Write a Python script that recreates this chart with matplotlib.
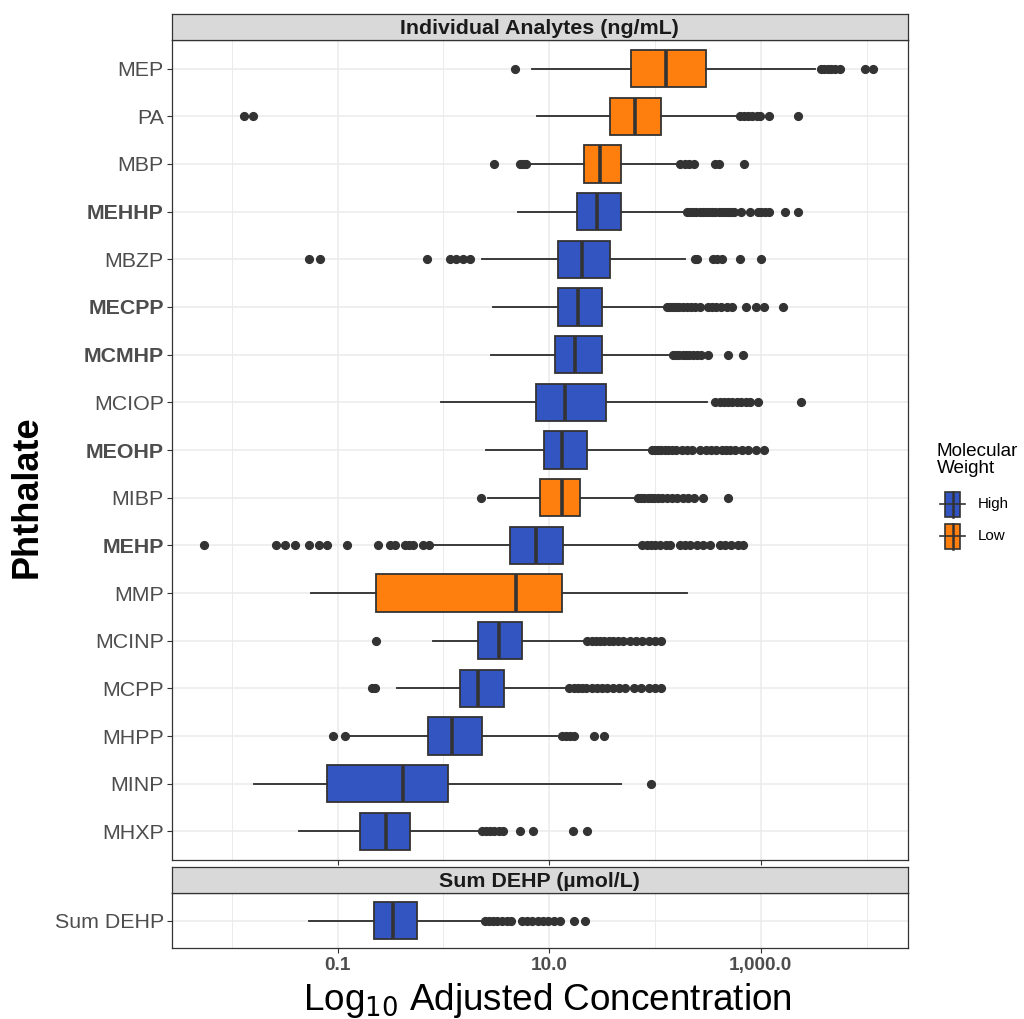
import numpy as np
import matplotlib
matplotlib.use("Agg")
import matplotlib.pyplot as plt
from matplotlib.patches import Rectangle
from matplotlib.ticker import NullFormatter

plt.rcParams['font.family'] = ['Liberation Sans', 'DejaVu Sans']

# ---- data (log10 of adjusted concentration) ----
analytes = ['MEP', 'PA', 'MBP', 'MEHHP', 'MBZP', 'MECPP', 'MCMHP', 'MCIOP', 'MEOHP',
            'MIBP', 'MEHP', 'MMP', 'MCINP', 'MCPP', 'MHPP', 'MINP', 'MHXP']
weight = ['Low', 'Low', 'Low', 'High', 'High', 'High', 'High', 'High', 'High',
          'Low', 'High', 'Low', 'High', 'High', 'High', 'High', 'High']
bold_labels = ['MEHHP', 'MECPP', 'MCMHP', 'MEOHP', 'MEHP']

whis_lo = [0.84, 0.88, 0.81, 0.70, 0.36, 0.47, 0.45, -0.02, 0.40, 0.42, -0.11, -1.25, -0.10, -0.44, -0.91, -1.79, -1.37]
q1 =      [1.77, 1.57, 1.33, 1.26, 1.08, 1.08, 1.05, 0.87, 0.95, 0.91, 0.63, -0.64, 0.33, 0.16, -0.15, -1.10, -0.79]
median =  [2.10, 1.81, 1.48, 1.45, 1.31, 1.27, 1.24, 1.15, 1.12, 1.12, 0.87, 0.69, 0.52, 0.33, 0.08, -0.38, -0.54]
q3 =      [2.48, 2.06, 1.68, 1.68, 1.57, 1.50, 1.50, 1.54, 1.36, 1.29, 1.13, 1.12, 0.74, 0.57, 0.36, 0.04, -0.32]
whis_hi = [3.51, 2.77, 2.21, 2.28, 2.28, 2.10, 2.17, 2.49, 1.97, 1.83, 1.86, 2.30, 1.34, 1.16, 1.07, 1.68, 0.34]

outliers = [
    [0.68, 3.57, 3.60, 3.63, 3.66, 3.70, 3.75, 3.98, 4.06],
    [-1.89, -1.80, 2.80, 2.84, 2.88, 2.92, 2.96, 2.99, 3.08, 3.35],
    [0.48, 0.72, 0.75, 0.78, 2.24, 2.28, 2.32, 2.37, 2.57, 2.60, 2.84],
    [2.30, 2.33, 2.36, 2.39, 2.42, 2.45, 2.48, 2.51, 2.54, 2.57, 2.60, 2.63, 2.66, 2.69,
     2.72, 2.75, 2.81, 2.90, 2.97, 3.00, 3.04, 3.08, 3.23, 3.35],
    [-1.27, -1.17, -0.16, 0.06, 0.12, 0.18, 0.25, 2.38, 2.40, 2.55, 2.59, 2.63, 2.80, 3.00],
    [2.11, 2.14, 2.17, 2.20, 2.23, 2.26, 2.30, 2.34, 2.38, 2.42, 2.50, 2.54, 2.58, 2.62,
     2.68, 2.73, 2.86, 2.95, 3.03, 3.21],
    [2.17, 2.20, 2.23, 2.26, 2.29, 2.32, 2.36, 2.40, 2.43, 2.50, 2.69, 2.83],
    [2.57, 2.61, 2.65, 2.69, 2.73, 2.77, 2.81, 2.86, 2.90, 2.97, 3.38],
    [1.97, 2.00, 2.03, 2.06, 2.09, 2.12, 2.16, 2.20, 2.25, 2.30, 2.35, 2.42, 2.48, 2.53,
     2.58, 2.63, 2.67, 2.71, 2.76, 2.82, 2.88, 2.95, 3.03],
    [0.35, 1.84, 1.87, 1.90, 1.93, 1.96, 1.99, 2.03, 2.07, 2.11, 2.16, 2.21, 2.26, 2.31,
     2.37, 2.45, 2.69],
    [-2.26, -1.58, -1.50, -1.40, -1.27, -1.18, -1.10, -0.91, -0.62, -0.51, -0.46, -0.36,
     -0.33, -0.29, -0.19, -0.14, 1.88, 1.92, 1.96, 2.00, 2.05, 2.10, 2.14, 2.24, 2.28,
     2.33, 2.40, 2.45, 2.52, 2.61, 2.66, 2.72, 2.78, 2.83],
    [],
    [-0.64, 1.36, 1.40, 1.44, 1.48, 1.52, 1.56, 1.60, 1.65, 1.70, 1.76, 1.82, 1.88, 1.94,
     2.00, 2.06],
    [-0.68, -0.65, 1.19, 1.23, 1.27, 1.31, 1.35, 1.40, 1.45, 1.50, 1.55, 1.60, 1.66, 1.72,
     1.80, 1.87, 1.94, 2.00, 2.06],
    [-1.04, -0.93, 1.12, 1.16, 1.20, 1.23, 1.42, 1.52],
    [1.96],
    [0.36, 0.40, 0.44, 0.48, 0.52, 0.56, 0.72, 0.85, 1.22, 1.36],
]

sum_label = 'Sum DEHP'
sum_stats = [-1.27, -0.66, -0.48, -0.25, 0.37]   # whislo, q1, med, q3, whishi
sum_outliers = [0.39, 0.43, 0.47, 0.51, 0.55, 0.60, 0.64, 0.74, 0.79, 0.84, 0.89,
                0.94, 0.99, 1.04, 1.10, 1.23, 1.34]

colors = {'High': '#3355C2', 'Low': '#FF7F0E'}
dark = '#333333'
grid_c = '#EBEBEB'

W, H = 1024, 1019
fig = plt.figure(figsize=(W / 100, H / 100), dpi=100)


def fr(x0, y0, x1, y1):
    # pixel box -> figure fraction
    return [x0 / W, 1 - y1 / H, (x1 - x0) / W, (y1 - y0) / H]


xl, xr = 171.5, 907.5
ax = fig.add_axes(fr(xl, 40, xr, 860))
ax2 = fig.add_axes(fr(xl, 893, xr, 948))
xlim = (10 ** -2.571, 10 ** 4.386)


def style_panel(a):
    a.set_xscale('log')
    a.set_xlim(*xlim)
    a.set_xticks([0.1, 10, 1000])
    a.set_xticks([0.01, 1, 100, 10000], minor=True)
    a.xaxis.set_minor_formatter(NullFormatter())
    a.grid(True, which='major', color=grid_c, lw=1.1, zorder=0)
    a.grid(True, which='minor', axis='x', color=grid_c, lw=0.7, zorder=0)
    a.set_axisbelow(True)
    for s in a.spines.values():
        s.set_color(dark)
        s.set_linewidth(0.9)
    a.tick_params(axis='both', which='major', length=3.5, width=0.8, color=dark)
    a.tick_params(axis='x', which='minor', length=0)
    a.tick_params(axis='y', labelsize=15.4, labelcolor='#4D4D4D', pad=2)


def draw_boxes(a, stats, pos, fills, width):
    bp = a.bxp(stats, positions=pos, widths=width, orientation='horizontal',
               patch_artist=True, showcaps=False,
               boxprops=dict(edgecolor=dark, linewidth=1.3),
               medianprops=dict(color=dark, linewidth=2.6),
               whiskerprops=dict(color=dark, linewidth=1.35),
               flierprops=dict(marker='o', markerfacecolor=dark, markeredgecolor=dark,
                               markersize=5.6, linestyle='none'),
               zorder=3)
    for patch, c in zip(bp['boxes'], fills):
        patch.set_facecolor(c)


n = len(analytes)
pos = [n - 1 - i for i in range(n)]
stats = []
for i, name in enumerate(analytes):
    stats.append(dict(whislo=10 ** whis_lo[i], q1=10 ** q1[i], med=10 ** median[i],
                      q3=10 ** q3[i], whishi=10 ** whis_hi[i],
                      fliers=10 ** np.array(outliers[i]), label=name))
style_panel(ax)
draw_boxes(ax, stats, pos, [colors[w] for w in weight], 0.78)
ax.set_ylim(-0.6, n - 0.4)
ax.set_yticks(pos)
ax.set_yticklabels(analytes)
for t in ax.get_yticklabels():
    if t.get_text() in bold_labels:
        t.set_fontweight('bold')
ax.tick_params(axis='x', which='both', labelbottom=False)

s = sum_stats
stats2 = [dict(whislo=10 ** s[0], q1=10 ** s[1], med=10 ** s[2], q3=10 ** s[3],
               whishi=10 ** s[4], fliers=10 ** np.array(sum_outliers), label=sum_label)]
style_panel(ax2)
draw_boxes(ax2, stats2, [0], [colors['High']], 0.78)
ax2.set_ylim(-0.577, 0.577)
ax2.set_yticks([0])
ax2.set_yticklabels([sum_label])
ax2.set_xticklabels(['0.1', '10.0', '1,000.0'])
ax2.tick_params(axis='x', labelsize=13.7, labelcolor='#4D4D4D', pad=3)
for t in ax2.get_xticklabels():
    t.set_fontweight('bold')

# facet strips
for box, txt in [((xl, 14, xr, 40), 'Individual Analytes (ng/mL)'),
                 ((xl, 867, xr, 893), 'Sum DEHP (\u00b5mol/L)')]:
    sa = fig.add_axes(fr(*box))
    sa.set_facecolor('#D9D9D9')
    sa.set_xticks([])
    sa.set_yticks([])
    for sp in sa.spines.values():
        sp.set_color(dark)
        sp.set_linewidth(0.9)
    sa.text(0.5, 0.45, txt, ha='center', va='center', fontsize=15.4,
            fontweight='bold', color='#1A1A1A', transform=sa.transAxes)

# axis titles
fig.text(27 / W, 1 - 497 / H, 'Phthalate', rotation=90, ha='center', va='center',
         fontsize=26, fontweight='bold', color='black')
fig.text(547 / W, 1 - 1000 / H, 'Log$_{10}$ Adjusted Concentration', ha='center',
         va='center', fontsize=26.6, color='black')

# legend
la = fig.add_axes([0, 0, 1, 1], facecolor='none')
la.set_xlim(0, W)
la.set_ylim(H, 0)
la.axis('off')
la.text(937, 460, 'Molecular\nWeight', ha='left', va='center', fontsize=13.6,
        linespacing=1.05, color='black')
for yc, lab in [(504, 'High'), (536, 'Low')]:
    la.plot([940, 965], [yc, yc], color=dark, lw=1.2)
    la.add_patch(Rectangle((945, yc - 12.5), 15, 25, facecolor=colors[lab],
                           edgecolor=dark, lw=1.2))
    la.plot([952.5, 952.5], [yc - 12.5, yc + 12.5], color=dark, lw=1.8)
    la.text(978, yc, lab, ha='left', va='center', fontsize=10.9, color='black')

fig.savefig('out.png', dpi=100)
